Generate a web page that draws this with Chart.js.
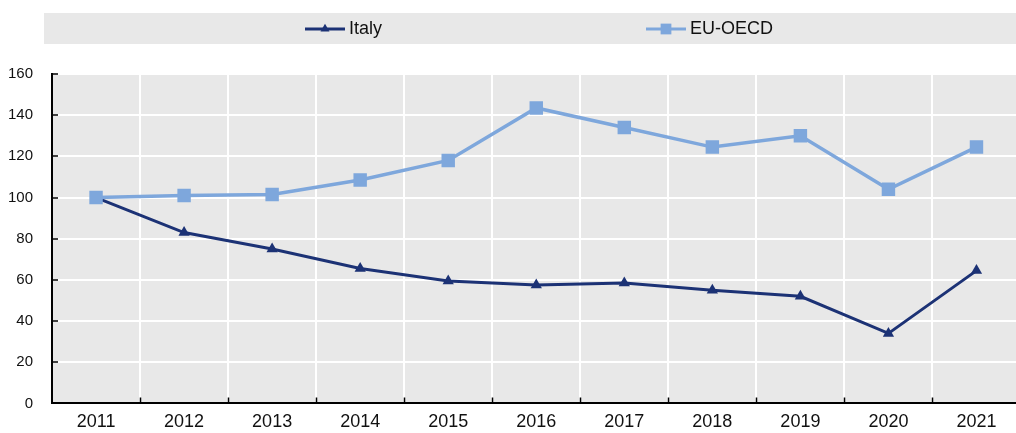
<!DOCTYPE html>
<html><head><meta charset="utf-8">
<script src="https://cdn.jsdelivr.net/npm/chart.js@4/dist/chart.umd.min.js"></script>
<style>html,body{margin:0;padding:0;overflow:hidden;background:#fff}#wrap{width:1030px;height:433px;position:relative}</style>
</head><body><div id="wrap"><canvas id="c"></canvas></div>
<script>
const years = ['2011','2012','2013','2014','2015','2016','2017','2018','2019','2020','2021'];
const italy = [100, 83, 75, 65.5, 59.5, 57.5, 58.5, 55, 52, 34, 64.5];
const euOecd = [100, 101, 101.5, 108.5, 118, 143.5, 134, 124.5, 130, 104, 124.5];
const seriesNames = ['Italy', 'EU-OECD'];
const yMin = 0, yMax = 160, yStep = 20;

const FONT = "'Liberation Sans', Arial, sans-serif";
const ITALY_COLOR = '#1c3275';
const EU_COLOR = '#7ea7dc';
const BG = '#e8e8e8';

const bgPlugin = {
  id: 'bg',
  beforeDraw(chart) {
    const {ctx, chartArea: a} = chart;
    ctx.save();
    ctx.fillStyle = BG;
    ctx.fillRect(a.left, a.top, a.right - a.left, a.bottom - a.top);
    ctx.fillRect(44, 13, chart.width - 44, 31);
    ctx.restore();
  },
  beforeDatasetsDraw(chart) {
    const {ctx, chartArea: a, scales: {x, y}} = chart;
    ctx.save();
    ctx.strokeStyle = '#000';
    ctx.lineWidth = 1.5;
    ctx.beginPath();
    y.ticks.forEach((t, i) => {
      const py = Math.round(y.getPixelForTick(i));
      ctx.moveTo(a.left, py); ctx.lineTo(a.left + 6, py);
    });
    for (let i = 1; i <= years.length; i++) {
      const px = Math.round(x.getPixelForValue(i - 0.5)) + 0.5;
      ctx.moveTo(px, a.bottom); ctx.lineTo(px, a.bottom - 6);
    }
    ctx.stroke();
    ctx.restore();
  },
  afterDraw(chart) {
    const {ctx} = chart;
    const items = [
      {ds: 1, x: 305},
      {ds: 0, x: 646}
    ];
    ctx.save();
    items.forEach(it => {
      const d = chart.data.datasets[it.ds];
      const cy = 29;
      ctx.strokeStyle = d.borderColor;
      ctx.lineWidth = 3;
      ctx.beginPath();
      ctx.moveTo(it.x, cy); ctx.lineTo(it.x + 40, cy);
      ctx.stroke();
      ctx.fillStyle = d.backgroundColor;
      Chart.helpers.drawPoint(ctx, {pointStyle: d.pointStyle, radius: d.pointRadius * 0.8, rotation: 0, borderWidth: 0}, it.x + 20, cy);
      ctx.fillStyle = '#111';
      ctx.font = '18px ' + FONT;
      ctx.textBaseline = 'middle';
      ctx.textAlign = 'left';
      ctx.fillText(d.label, it.x + 44, cy);
    });
    ctx.restore();
  }
};

new Chart(document.getElementById('c'), {
  type: 'line',
  data: {
    labels: years,
    datasets: [
      {
        label: seriesNames[1], data: euOecd, order: 0,
        borderColor: EU_COLOR, backgroundColor: EU_COLOR, borderWidth: 3.5,
        pointStyle: 'rect', pointRadius: 9.5, pointBorderWidth: 0, tension: 0
      },
      {
        label: seriesNames[0], data: italy, order: 1,
        borderColor: ITALY_COLOR, backgroundColor: ITALY_COLOR, borderWidth: 3,
        pointStyle: 'triangle', pointRadius: 6.5, pointBorderWidth: 0, tension: 0
      }
    ]
  },
  options: {
    responsive: true, maintainAspectRatio: false, animation: false,
    layout: {padding: {left: -11, top: 74, right: 0, bottom: -8}},
    plugins: {legend: {display: false}, tooltip: {enabled: false}},
    scales: {
      x: {
        offset: true,
        grid: {offset: true, color: '#fff', lineWidth: 2, drawTicks: false},
        border: {display: true, color: '#000', width: 2},
        ticks: {font: {family: FONT, size: 18}, color: '#111', padding: 8, maxRotation: 0}
      },
      y: {
        min: yMin, max: yMax,
        grid: {color: '#fff', lineWidth: 2, drawTicks: false},
        border: {display: true, color: '#000', width: 2},
        ticks: {stepSize: yStep, font: {family: FONT, size: 15}, color: '#111', padding: 19}
      }
    }
  },
  plugins: [bgPlugin]
});
</script></body></html>
